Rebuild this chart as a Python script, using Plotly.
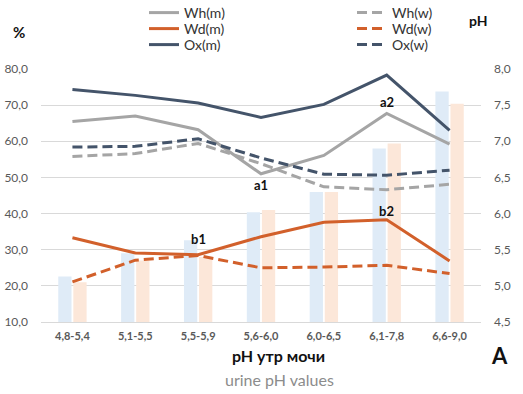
import plotly.graph_objects as go

categories = ["4,8-5,4", "5,1-5,5", "5,5-5,9", "5,6-6,0", "6,0-6,5", "6,1-7,8", "6,6-9,0"]

# bars: mean urine pH (right axis)
ph_m = [5.13, 5.45, 5.63, 6.02, 6.30, 6.90, 7.69]
ph_w = [5.05, 5.35, 5.40, 6.05, 6.30, 6.97, 7.52]

# lines: % (left axis)
wh_m = [65.5, 67.0, 63.2, 51.0, 56.1, 67.7, 59.2]
wh_w = [55.8, 56.6, 59.4, 53.8, 47.4, 46.6, 48.1]
wd_m = [33.3, 29.1, 28.6, 33.6, 37.6, 38.3, 26.9]
wd_w = [21.1, 27.1, 28.4, 25.0, 25.2, 25.7, 23.4]
ox_m = [74.3, 72.7, 70.6, 66.6, 70.2, 78.3, 63.0]
ox_w = [58.4, 58.6, 60.7, 55.4, 50.9, 50.6, 52.0]

point_labels = [("a1", 3, 48.0), ("a2", 5, 70.9), ("b1", 2, 33.0), ("b2", 5, 40.8)]

GRAY = "#A5A5A5"
ORANGE = "#D2602B"
NAVY = "#44546A"
FONT = "Lato"
TICK = "#595959"

W, H = 523, 394
L, R, T, B = 40.5, 481.5, 68.7, 321.7


def px(x):
    return (x - L) / (R - L)


def py(y):
    return (B - y) / (B - T)


fig = go.Figure()

fig.add_trace(go.Bar(x=categories, y=ph_m, marker=dict(color="#DFEBF7", line=dict(width=0)),
                     showlegend=False, yaxis="y", offsetgroup="m", hoverinfo="skip"))
fig.add_trace(go.Bar(x=categories, y=ph_w, marker=dict(color="#FCE7D9", line=dict(width=0)),
                     showlegend=False, yaxis="y", offsetgroup="w", hoverinfo="skip"))

series = [
    ("Wh(m)", wh_m, GRAY, "solid", "legend"), ("Wh(w)", wh_w, GRAY, "10px,5px", "legend"),
    ("Wd(m)", wd_m, ORANGE, "solid", "legend2"), ("Wd(w)", wd_w, ORANGE, "10px,5px", "legend2"),
    ("Ox(m)", ox_m, NAVY, "solid", "legend3"), ("Ox(w)", ox_w, NAVY, "10px,5px", "legend3"),
]
for name, vals, col, dash, lg in series:
    fig.add_trace(go.Scatter(x=categories, y=vals, name=name, mode="lines", yaxis="y2",
                             legend=lg, line=dict(color=col, width=3, dash=dash)))

for txt, i, v in point_labels:
    fig.add_annotation(x=categories[i], y=v, xref="x", yref="y2", text="<b>%s</b>" % txt,
                       showarrow=False, font=dict(family=FONT, size=13, color="#111111"))


def note(x, y, text, size, color="#111111"):
    fig.add_annotation(x=px(x), y=py(y), xref="paper", yref="paper", text=text,
                       xanchor="center", yanchor="middle", showarrow=False,
                       font=dict(family=FONT, size=size, color=color))


note(18, 32, "<b>%</b>", 15)
note(479, 20, "<b>pH</b>", 14)
note(279, 355, "<b>pH утр мочи</b>", 16)
note(280, 379, "urine pH values", 16, "#8C8C8C")
note(500, 355, "<b>A</b>", 22)


def legend_row(yc):
    return dict(orientation="h", xref="container", yref="container",
                x=144 / W, y=1 - yc / H, xanchor="left", yanchor="middle",
                entrywidth=163, entrywidthmode="pixels", traceorder="normal",
                font=dict(family=FONT, size=14, color="#333333"),
                bgcolor="rgba(0,0,0,0)", itemwidth=30)


fig.update_layout(
    width=W, height=H,
    margin=dict(l=L, r=W - R, t=T, b=H - B, pad=0, autoexpand=False),
    paper_bgcolor="white", plot_bgcolor="white",
    separators=", ",
    barmode="group", bargap=0.52, bargroupgap=0.12,
    font=dict(family=FONT, size=12, color=TICK),
    showlegend=True,
    legend=legend_row(13), legend2=legend_row(29), legend3=legend_row(45),
    xaxis=dict(type="category", showgrid=False, showline=True, linecolor="#D9D9D9",
               ticks="", tickfont=dict(family=FONT, size=11, color=TICK, weight="bold"),
               ticklabelstandoff=4, automargin=False),
    yaxis=dict(side="right", range=[4.5, 8.0], tick0=4.5, dtick=0.5, tickformat=".1f",
               showgrid=True, gridcolor="#D9D9D9", gridwidth=1, zeroline=False,
               showline=False, ticks="", tickfont=dict(family=FONT, size=12, color=TICK),
               ticklabelstandoff=12, automargin=False),
    yaxis2=dict(side="left", overlaying="y", range=[10, 80], tick0=10, dtick=10,
                tickformat=".1f", showgrid=False, zeroline=False, showline=False, ticks="",
                tickfont=dict(family=FONT, size=12, color=TICK), ticklabelstandoff=12,
                automargin=False),
)

fig.write_html("out.html", config={"displayModeBar": False},
               post_script="document.body.style.margin='0';")
